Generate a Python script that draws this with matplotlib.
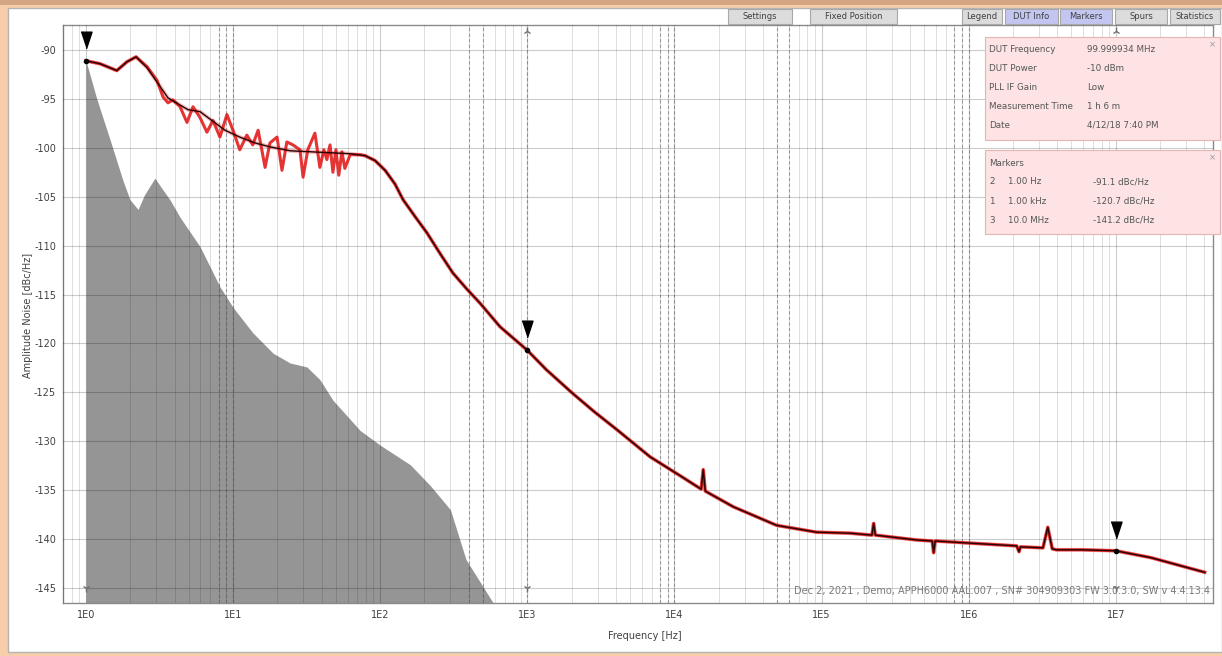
import matplotlib
matplotlib.use("Agg")
import matplotlib.pyplot as plt
from matplotlib.patches import Rectangle
from matplotlib.ticker import FixedLocator, LogLocator, NullFormatter
from matplotlib.transforms import offset_copy, blended_transform_factory

W, H = 1222, 656

# smoothed phase-noise trace (offset frequency in Hz, dBc/Hz), spurs included
trace_freq = [1.0, 1.245, 1.62, 1.90, 2.19, 2.60, 3.18, 3.61, 4.22, 4.94, 5.96,
              7.17, 8.81, 11.1, 14.1, 17.8, 24.4, 33.3, 45.6, 62.5, 78.9, 92.2,
              108, 126, 143, 172, 208, 255, 312, 386, 478, 653, 1000, 1350, 2030,
              2860, 4050, 6840, 11400, 15200, 15700, 16200, 25100, 49500, 92600,
              156000, 220000, 226000, 232000, 446000, 565000, 578000, 592000,
              976000, 2.12e6, 2.2e6, 2.25e6, 3.2e6, 3.45e6, 3.7e6, 3.94e6, 5.9e6,
              1e7, 1.73e7, 2.87e7, 4.02e7]
trace_db = [-91.1, -91.4, -92.1, -91.2, -90.7, -91.8, -93.7, -94.9, -95.5, -96.1, -96.3,
            -97.2, -98.2, -98.9, -99.5, -99.9, -100.3, -100.4, -100.5, -100.6, -100.8, -101.3,
            -102.3, -103.7, -105.3, -107.0, -108.7, -110.8, -112.8, -114.4, -115.9, -118.3,
            -120.7, -122.7, -125.1, -127.0, -128.8, -131.6, -133.7, -134.9, -132.9, -135.1,
            -136.7, -138.6, -139.3, -139.4, -139.6, -138.4, -139.6, -140.1, -140.2, -141.4,
            -140.2, -140.4, -140.7, -141.3, -140.8, -140.9, -138.8, -141.0, -141.1, -141.1,
            -141.2, -141.9, -142.8, -143.4]

# raw (unsmoothed) trace in the noisy low-offset region
raw_freq = [1.62, 1.90, 2.19, 2.60, 3.04, 3.34, 3.61, 3.90, 4.36, 4.86, 5.34, 5.96,
            6.64, 7.30, 8.14, 9.08, 9.98, 11.1, 12.4, 13.6, 14.8, 16.5, 17.8, 19.9,
            21.5, 23.2, 25.5, 28.5, 29.9, 32.2, 36.0, 38.9, 41.4, 43.4, 45.6, 47.7,
            50.0, 52.3, 54.9, 57.5, 62.5, 73.0]
raw_db = [-92.1, -91.2, -90.7, -91.7, -93.1, -94.8, -95.4, -95.1, -95.8, -97.4, -95.8, -96.9,
          -98.4, -97.2, -98.9, -96.6, -98.2, -100.2, -98.7, -99.7, -98.2, -102.0, -99.5, -98.9,
          -102.3, -99.4, -99.7, -100.2, -103.0, -100.2, -98.5, -102.0, -100.2, -101.2, -99.7,
          -102.5, -100.2, -102.8, -100.4, -102.1, -100.7, -100.7]

# reference (noise floor / correlation) trace shown as filled area
floor_freq = [1.0, 1.19, 1.46, 1.78, 1.99, 2.26, 2.5, 2.94, 3.3, 3.72, 4.36, 5.96, 8.14,
              9.98, 13.6, 18.7, 24.4, 31.7, 38.9, 47.7, 73, 100, 160, 218, 300, 383,
              478, 590]
floor_db = [-91.1, -95.1, -99.2, -103.3, -105.3, -106.3, -104.8, -103.1, -104.2, -105.3,
            -107.1, -110.1, -114.2, -116.3, -118.9, -121.0, -122.0, -122.4, -123.7, -125.8,
            -128.9, -130.4, -132.4, -134.5, -137.0, -142.1, -144.4, -146.6]

marker_id = ["2", "1", "3"]
marker_freq = [1.0, 1000.0, 1e7]
marker_label = ["1.00 Hz", "1.00 kHz", "10.0 MHz"]
marker_db = [-91.1, -120.7, -141.2]

dashed_freq = [8, 9, 10, 400, 500, 1000, 8e3, 9e3, 1e4, 5e4, 6e4, 8e5, 9e5, 1e6]

dut_labels = ["DUT Frequency", "DUT Power", "PLL IF Gain", "Measurement Time", "Date"]
dut_values = ["99.999934 MHz", "-10 dBm", "Low", "1 h 6 m", "4/12/18 7:40 PM"]

buttons = ["Settings", "Fixed Position", "Legend", "DUT Info", "Markers", "Spurs", "Statistics"]
button_x = [728, 810, 962, 1005, 1060, 1115, 1170]
button_w = [64, 87, 40, 53, 52, 52, 50]
button_on = [False, False, False, True, True, False, False]

x_ticks = [1, 10, 100, 1e3, 1e4, 1e5, 1e6, 1e7]
x_tick_labels = ["1E0", "1E1", "1E2", "1E3", "1E4", "1E5", "1E6", "1E7"]
y_ticks = list(range(-145, -89, 5))

footer = "Dec 2, 2021 , Demo, APPH6000 AAL.007 , SN# 304909303 FW 3.0.3.0, SW v 4.4.13.4"


def fx(x):
    return x / W


def fy(y):
    return 1 - y / H


fig = plt.figure(figsize=(W / 100, H / 100), dpi=100)
fig.patch.set_facecolor("#f8cdaa")

# window background and title-bar shadow
fig.add_artist(Rectangle((0, fy(5)), 1, 5 / H, transform=fig.transFigure,
                         facecolor="#d4a683", edgecolor="none", zorder=-2))
fig.add_artist(Rectangle((fx(8), fy(652)), (W - 8) / W, 644 / H, transform=fig.transFigure,
                         facecolor="white", edgecolor="#b4b4b4", lw=1, zorder=-2))

ax = fig.add_axes([fx(63), fy(603), (1213 - 63) / W, (603 - 25) / H])
ax.set_xscale("log")
ax.set_xlim(0.698, 4.58e7)
ax.set_ylim(-146.54, -87.44)
ax.set_axisbelow(False)

ax.fill_between(floor_freq, floor_db, -150, color="#959595", lw=0, zorder=1)

ax.xaxis.set_major_locator(FixedLocator(x_ticks))
ax.set_xticklabels(x_tick_labels)
ax.xaxis.set_minor_locator(LogLocator(base=10, subs=range(2, 10), numticks=20))
ax.xaxis.set_minor_formatter(NullFormatter())
ax.set_yticks(y_ticks)
ax.set_yticklabels([str(v) for v in y_ticks])
ax.tick_params(which="both", length=0, labelsize=7, labelcolor="#404040", pad=5)

ax.grid(which="major", axis="both", color="k", alpha=0.2, lw=0.8)
ax.grid(which="minor", axis="x", color="k", alpha=0.13, lw=0.7)
for f in dashed_freq:
    ax.axvline(f, color="#505050", lw=0.8, ls=(0, (3, 2)), alpha=0.5, zorder=2.6)

for s in ax.spines.values():
    s.set_color("#8a8a8a")
    s.set_linewidth(1)

# raw trace as a red band, smoothed trace as a thin dark line on top
red_f = [f for f in trace_freq if f < raw_freq[0]] + raw_freq + \
        [f for f in trace_freq if f > raw_freq[-1]]
red_d = [d for f, d in zip(trace_freq, trace_db) if f < raw_freq[0]] + raw_db + \
        [d for f, d in zip(trace_freq, trace_db) if f > raw_freq[-1]]
ax.plot(red_f, red_d, color="#e01010", lw=2.2, alpha=0.85, zorder=4)
ax.plot(trace_freq, trace_db, color="#e01010", lw=2.8, alpha=0.3, zorder=4)
ax.plot(trace_freq, trace_db, color="#240404", lw=1.0, zorder=5)

# markers
tri = [(-3.3, 5), (3.3, 5), (0, -5)]
above = offset_copy(ax.transData, fig=fig, x=0, y=15, units="points")
ax.plot(marker_freq, marker_db, ls="none", marker=tri, ms=12, color="black",
        transform=above, zorder=7, clip_on=False)
ax.plot(marker_freq, marker_db, ls="none", marker="o", ms=3, color="black", zorder=7)

# cursor ticks at the top and bottom of the plot
bt = blended_transform_factory(ax.transData, ax.transAxes)
ax.plot([1, 1e3, 1e7], [0.026] * 3, ls="none", marker="1", ms=6, color="#707070",
        transform=bt, zorder=6)
ax.plot([1e3, 1e7], [0.99] * 2, ls="none", marker="2", ms=6, color="#707070",
        transform=bt, zorder=6)

ax.text(0.997, 0.012, footer, transform=ax.transAxes, ha="right", va="bottom",
        fontsize=7, color="#7a7a7a", zorder=6)

fig.text(fx(28), fy(315), "Amplitude Noise [dBc/Hz]", rotation=90, fontsize=7,
         ha="center", va="center", color="#404040")
fig.text(fx(645), fy(636), "Frequency [Hz]", fontsize=7, ha="center", va="center",
         color="#404040")

# toolbar buttons
for label, x0, w, on in zip(buttons, button_x, button_w, button_on):
    fig.add_artist(Rectangle((fx(x0), fy(24)), w / W, 15 / H, transform=fig.transFigure,
                             facecolor="#c4c6f2" if on else "#dcdcdc",
                             edgecolor="#a8a8a8", lw=0.8))
    fig.text(fx(x0 + w / 2), fy(16.5), label, fontsize=6, ha="center", va="center",
             color="#404040")

# DUT info and marker boxes
box_fc, box_ec = "#fde3e3", "#e6b4b4"
fig.add_artist(Rectangle((fx(985), fy(140)), 235 / W, 103 / H, transform=fig.transFigure,
                         facecolor=box_fc, edgecolor=box_ec, lw=0.8, zorder=8))
for i, (lab, val) in enumerate(zip(dut_labels, dut_values)):
    yy = 50 + i * 18.8
    fig.text(fx(989), fy(yy), lab, fontsize=6.3, va="center", color="#555555", zorder=9)
    fig.text(fx(1087), fy(yy), val, fontsize=6.3, va="center", color="#555555", zorder=9)
fig.text(fx(1212), fy(45), "×", fontsize=6, ha="center", va="center", color="#999999", zorder=9)

fig.add_artist(Rectangle((fx(985), fy(234)), 235 / W, 84 / H, transform=fig.transFigure,
                         facecolor=box_fc, edgecolor=box_ec, lw=0.8, zorder=8))
fig.text(fx(989), fy(163), "Markers", fontsize=6.3, va="center", color="#555555", zorder=9)
for i, (mid, mf, md) in enumerate(zip(marker_id, marker_label, marker_db)):
    yy = 182 + i * 19
    fig.text(fx(989), fy(yy), mid, fontsize=6.3, va="center", color="#555555", zorder=9)
    fig.text(fx(1008), fy(yy), mf, fontsize=6.3, va="center", color="#555555", zorder=9)
    fig.text(fx(1093), fy(yy), f"{md:.1f} dBc/Hz", fontsize=6.3, va="center",
             color="#555555", zorder=9)
fig.text(fx(1212), fy(158), "×", fontsize=6, ha="center", va="center", color="#999999", zorder=9)

fig.savefig("out.png", dpi=100, facecolor=fig.get_facecolor())
